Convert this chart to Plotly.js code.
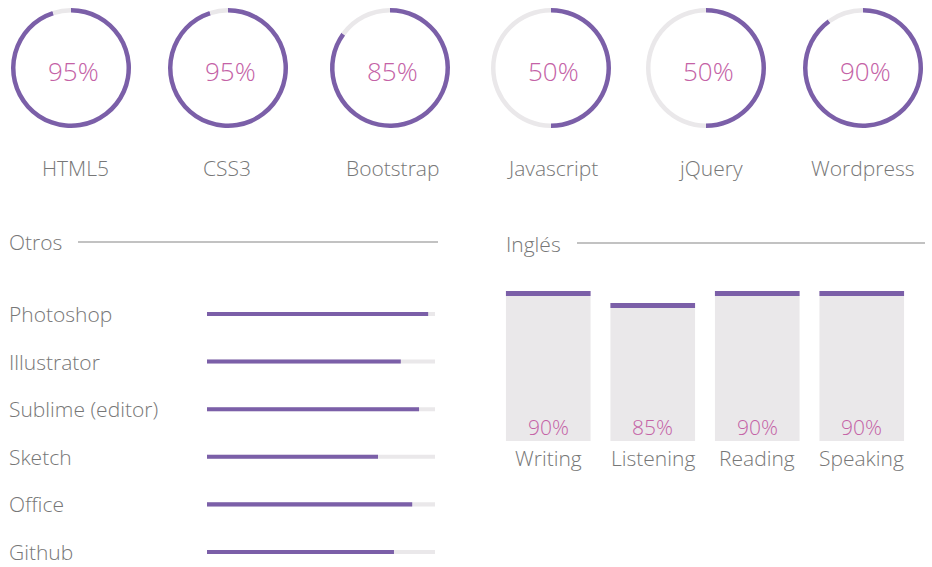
<!DOCTYPE html>
<html>
<head>
<meta charset="utf-8">
<script src="https://cdn.plot.ly/plotly-3.0.1.min.js"></script>
<style>
html,body{margin:0;padding:0;background:#fff;}
#chart{width:932px;height:567px;}
</style>
</head>
<body>
<div id="chart"></div>
<script>
// ---- data ----
var skillNames = ["HTML5", "CSS3", "Bootstrap", "Javascript", "jQuery", "Wordpress"];
var skillValues = [95, 95, 85, 50, 50, 90];

var toolNames = ["Photoshop", "Illustrator", "Sublime (editor)", "Sketch", "Office", "Github"];
var toolValues = [97, 85, 93, 75, 90, 82];

var langNames = ["Writing", "Listening", "Reading", "Speaking"];
var langValues = [90, 85, 90, 90];

var sectionTitles = ["Otros", "Inglés"];

// ---- style ----
var W = 932, H = 567;
var PURPLE = "#7b5fa8", TRACK = "#eae8ea", PINK = "#c462a6", GREY = "#777777";
var FONT = "Open Sans, Noto Sans, sans-serif";
function px(x){ return x / W; }
function py(y){ return (H - y) / H; }

var donutCx = [71, 228, 390, 551, 706, 863];
var labelCx = [75, 227, 392, 552, 710, 863];
var donutCy = 68, donutR = 60;

var traces = [];
var annotations = [];
var shapes = [];

// donuts
skillNames.forEach(function(name, i){
  var cx = donutCx[i];
  traces.push({
    type: "pie",
    values: [skillValues[i], 100 - skillValues[i]],
    labels: [name, "rest"],
    hole: 0.925,
    sort: false,
    direction: "clockwise",
    rotation: 0,
    textinfo: "none",
    hoverinfo: "skip",
    showlegend: false,
    marker: {colors: [PURPLE, TRACK], line: {width: 0}},
    domain: {x: [px(cx - donutR), px(cx + donutR)], y: [py(donutCy + donutR), py(donutCy - donutR)]}
  });
  annotations.push({
    xref: "paper", yref: "paper", x: px(cx + 2), y: py(71),
    text: skillValues[i] + "%", showarrow: false, xanchor: "center", yanchor: "middle",
    font: {family: FONT, size: 26, color: PINK, weight: 300}
  });
  annotations.push({
    xref: "paper", yref: "paper", x: px(labelCx[i]), y: py(168),
    text: name, showarrow: false, xanchor: "center", yanchor: "middle",
    font: {family: FONT, size: 21, color: GREY, weight: 300}
  });
});

// horizontal bars (Otros)
traces.push({
  type: "bar", orientation: "h", xaxis: "x", yaxis: "y",
  y: toolNames, x: toolNames.map(function(){ return 100; }),
  width: 0.085, marker: {color: TRACK}, hoverinfo: "skip", showlegend: false
});
traces.push({
  type: "bar", orientation: "h", xaxis: "x", yaxis: "y",
  y: toolNames, x: toolValues,
  width: 0.085, marker: {color: PURPLE}, showlegend: false
});
toolNames.forEach(function(n){
  annotations.push({
    xref: "paper", yref: "y", x: px(7), y: n, xanchor: "left", yanchor: "middle",
    text: n, showarrow: false, font: {family: FONT, size: 21, color: GREY, weight: 300}
  });
});

// vertical bars (Inglés)
var stripH = 2.1;
traces.push({
  type: "bar", xaxis: "x2", yaxis: "y2",
  x: langNames, y: langValues, width: 0.81,
  marker: {color: TRACK}, hoverinfo: "skip", showlegend: false
});
traces.push({
  type: "bar", xaxis: "x2", yaxis: "y2",
  x: langNames, y: langValues.map(function(){ return stripH; }),
  base: langValues.map(function(v){ return v - stripH; }), width: 0.81,
  marker: {color: PURPLE}, showlegend: false
});
langNames.forEach(function(n, i){
  annotations.push({
    xref: "x2", yref: "paper", x: n, y: py(427), xanchor: "center", yanchor: "middle",
    text: langValues[i] + "%", showarrow: false, font: {family: FONT, size: 21, color: PINK, weight: 300}
  });
  annotations.push({
    xref: "x2", yref: "paper", x: n, y: py(458), xanchor: "center", yanchor: "middle",
    text: n, showarrow: false, font: {family: FONT, size: 21, color: GREY, weight: 300}
  });
});

// section titles
annotations.push({xref: "paper", yref: "paper", x: px(7), y: py(242), xanchor: "left", yanchor: "middle",
  text: sectionTitles[0], showarrow: false, font: {family: FONT, size: 21, color: GREY, weight: 300}});
annotations.push({xref: "paper", yref: "paper", x: px(504), y: py(244), xanchor: "left", yanchor: "middle",
  text: sectionTitles[1], showarrow: false, font: {family: FONT, size: 21, color: GREY, weight: 300}});
shapes.push({type: "line", xref: "paper", yref: "paper", x0: px(78), x1: px(438), y0: py(242), y1: py(242),
  line: {color: "#858585", width: 1}});
shapes.push({type: "line", xref: "paper", yref: "paper", x0: px(577), x1: px(925), y0: py(243), y1: py(243),
  line: {color: "#858585", width: 1}});

var layout = {
  width: W, height: H,
  margin: {l: 0, r: 0, t: 0, b: 0},
  paper_bgcolor: "#ffffff", plot_bgcolor: "rgba(0,0,0,0)",
  barmode: "overlay",
  showlegend: false,
  xaxis: {domain: [px(207), px(435)], range: [0, 100], visible: false, fixedrange: true},
  yaxis: {domain: [0, py(290)], range: [5.316, -0.504], type: "category", visible: false, fixedrange: true},
  xaxis2: {domain: [px(496), px(914)], range: [-0.5, 3.5], type: "category", visible: false, anchor: "y2", fixedrange: true},
  yaxis2: {domain: [py(441), py(280)], range: [27.5, 94.6], visible: false, anchor: "x2", fixedrange: true},
  annotations: annotations,
  shapes: shapes
};

Plotly.newPlot("chart", traces, layout, {displayModeBar: false, staticPlot: true});
</script>
</body>
</html>
